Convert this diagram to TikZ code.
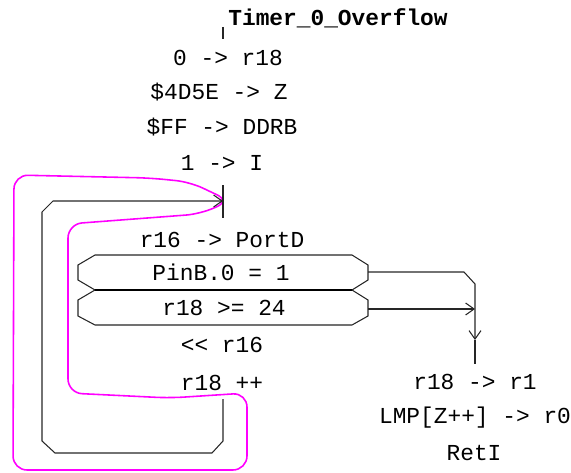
\documentclass[tikz,border=0pt]{standalone}
\usepackage{fontspec}
\setmonofont{Liberation Mono}
\usetikzlibrary{arrows.meta, positioning, calc}
\definecolor{tracemag}{RGB}{255,0,255}
\tikzstyle{stmt} = [font=\ttfamily\fontsize{13}{15}\selectfont, inner sep=0pt]
\tikzstyle{flow} = [line width=0.6pt, black!85]
\tikzstyle{arrow} = [flow, -{Straight Barb[length=1.7mm,width=2.4mm]}]
\tikzstyle{cond} = [flow, fill=white]
\tikzstyle{trace} = [tracemag, line width=0.9pt, rounded corners=8pt]

\begin{document}
\begin{tikzpicture}[x=0.02cm, y=-0.02cm]
    \useasboundingbox (0,0) rectangle (571,473);

    % Trace of the loop
    \draw[trace] (230,201) -- (190,182) -- (150,178) -- (14,175) -- (13,470)
        -- (247,470) -- (247,393) -- (170,398) -- (68,393) -- (68,224)
        -- (200,214) -- cycle;

    % Start
    \coordinate (top) at (223,27);
    \coordinate (topend) at (223,39);
    \draw[flow] (top) -- (topend);
    \node[stmt, anchor=west, font=\ttfamily\bfseries\fontsize{13}{15}\selectfont] (title) at (228,18) {Timer\_0\_Overflow};

    % Statements
    \node[stmt] (s1) at (228,58) {0 -> r18};
    \node[stmt] (s2) at (219,92) {\$4D5E -> Z};
    \node[stmt] (s3) at (222,127) {\$FF -> DDRB};
    \node[stmt] (s4) at (222,163) {1 -> I};

    % Loop entry
    \coordinate (ltop) at (223,185);
    \coordinate (lbot) at (223,218);
    \coordinate (lin) at (223,201);
    \draw[flow] (ltop) -- (lbot);
    \node[stmt] (s5) at (222,240) {r16 -> PortD};

    % Conditions
    \draw[cond] (95,255) -- (352,255) -- (368,265) -- (368,280) -- (352,290)
        -- (95,290) -- (78,280) -- (78,265) -- cycle;
    \draw[cond] (95,290) -- (352,290) -- (368,300) -- (368,316) -- (352,325)
        -- (95,325) -- (78,316) -- (78,300) -- cycle;
    \draw[line width=1.4pt] (95,290) -- (352,290);
    \node[stmt] (c1) at (221,272) {PinB.0 = 1};
    \node[stmt] (c2) at (224,308) {r18 >= 24};
    \coordinate (c1out) at (368,272);
    \coordinate (c2out) at (368,309);

    \node[stmt] (s6) at (222,345) {<< r16};
    \node[stmt] (s7) at (222,383) {r18 ++};

    % Loop back
    \coordinate (lstart) at (223,399);
    \draw[arrow] (lstart) -- (223,441) -- (212,453) -- (55,453) -- (42,441)
        -- (42,212) -- (53,201) -- (lin);

    % Exit
    \coordinate (join) at (475,309);
    \coordinate (jdown) at (475,340);
    \coordinate (jend) at (475,364);
    \draw[arrow] (c1out) -- (464,272) -- (475,284) -- (jdown);
    \draw[flow] (jdown) -- (jend);
    \draw[arrow] (c2out) -- (join);

    \node[stmt] (e1) at (475,382) {r18 -> r1};
    \node[stmt] (e2) at (475,418) {LMP[Z++] -> r0};
    \node[stmt] (e3) at (474,453) {RetI};
\end{tikzpicture}
\end{document}
